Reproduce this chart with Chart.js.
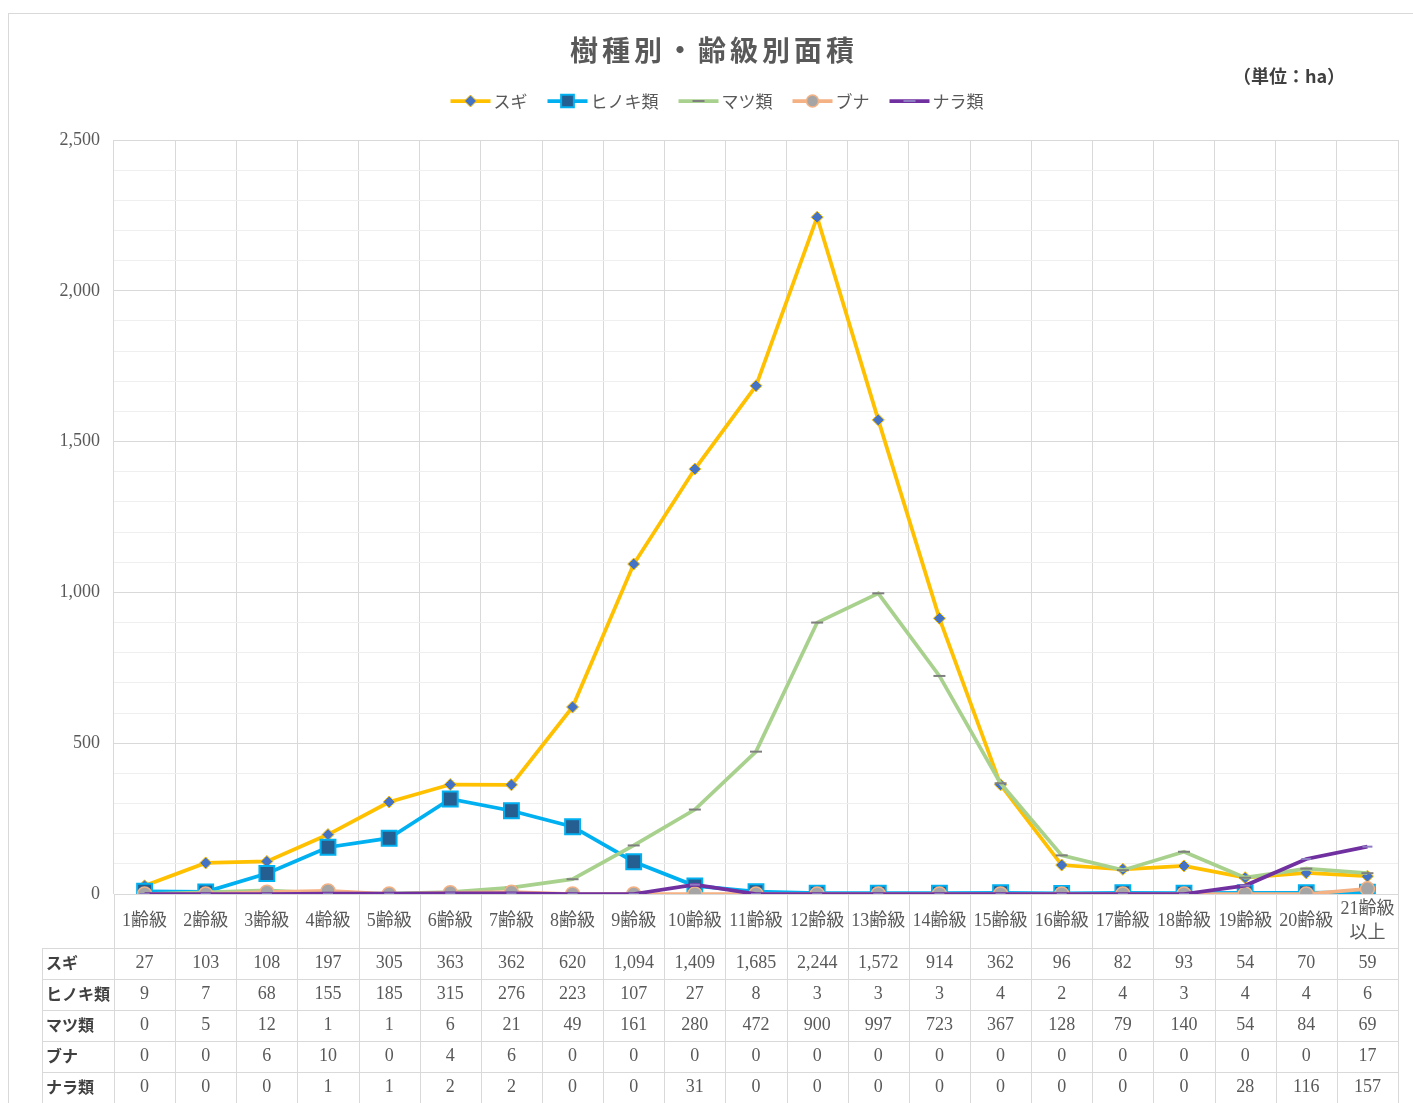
<!DOCTYPE html>
<html lang="ja">
<head>
<meta charset="utf-8">
<title>樹種別・齢級別面積</title>
<script src="https://cdn.jsdelivr.net/npm/chart.js@4.4.0/dist/chart.umd.min.js"></script>
<style>
  html, body { margin: 0; padding: 0; background: #fff; }
  canvas { display: block; }
</style>
</head>
<body>
<canvas id="chart" width="1413" height="1103"></canvas>
<script>
// 齢級 (age class) categories
const categories = ['1齢級', '2齢級', '3齢級', '4齢級', '5齢級', '6齢級', '7齢級', '8齢級', '9齢級', '10齢級',
  '11齢級', '12齢級', '13齢級', '14齢級', '15齢級', '16齢級', '17齢級', '18齢級', '19齢級', '20齢級', ['21齢級', '以上']];

const seriesNames = ['スギ', 'ヒノキ類', 'マツ類', 'ブナ', 'ナラ類'];

const sugi = [27, 103, 108, 197, 305, 363, 362, 620, 1094, 1409, 1685, 2244, 1572, 914, 362, 96, 82, 93, 54, 70, 59];
const hinoki = [9, 7, 68, 155, 185, 315, 276, 223, 107, 27, 8, 3, 3, 3, 4, 2, 4, 3, 4, 4, 6];
const matsu = [0, 5, 12, 1, 1, 6, 21, 49, 161, 280, 472, 900, 997, 723, 367, 128, 79, 140, 54, 84, 69];
const buna = [0, 0, 6, 10, 0, 4, 6, 0, 0, 0, 0, 0, 0, 0, 0, 0, 0, 0, 0, 0, 17];
const nara = [0, 0, 0, 1, 1, 2, 2, 0, 0, 31, 0, 0, 0, 0, 0, 0, 0, 0, 28, 116, 157];

const yTicks = [0, 500, 1000, 1500, 2000, 2500];

const SERIF = "'Liberation Serif', 'Noto Sans CJK JP', serif";
const GOTHIC = "'Noto Sans CJK JP', sans-serif";
const TEXT = '#595959';
const GRID = '#d9d9d9';
const GRID_MINOR = '#efefef';

const datasets = [
  {
    label: seriesNames[0], data: sugi, order: 4,
    borderColor: '#ffc000', borderWidth: 3.75,
    pointStyle: 'rectRot', pointRadius: 6,
    pointBackgroundColor: '#4472c4', pointBorderColor: '#ffc000', pointBorderWidth: 1
  },
  {
    label: seriesNames[1], data: hinoki, order: 3,
    borderColor: '#00b0f0', borderWidth: 3.75,
    pointStyle: 'rect', pointRadius: 10.5,
    pointBackgroundColor: '#255e91', pointBorderColor: '#00b0f0', pointBorderWidth: 2
  },
  {
    label: seriesNames[2], data: matsu, order: 2,
    borderColor: '#a9d18e', borderWidth: 3.75,
    pointStyle: 'line', pointRadius: 6,
    pointBackgroundColor: '#7f7f7f', pointBorderColor: '#7f7f7f', pointBorderWidth: 2
  },
  {
    label: seriesNames[3], data: buna, order: 1,
    borderColor: '#f4b183', borderWidth: 3.75,
    pointStyle: 'circle', pointRadius: 7,
    pointBackgroundColor: '#a5a5a5', pointBorderColor: '#f4b183', pointBorderWidth: 1.5
  },
  {
    label: seriesNames[4], data: nara, order: 0,
    borderColor: '#7030a0', borderWidth: 3.75,
    pointStyle: 'line', pointRadius: 5,
    pointBackgroundColor: '#8e7cc3', pointBorderColor: '#8e7cc3', pointBorderWidth: 2
  }
];

const tableRows = [sugi, hinoki, matsu, buna, nara];

// title, unit, legend, frame
const decorPlugin = {
  id: 'decor',
  beforeDraw(chart) {
    const ctx = chart.ctx;
    ctx.save();
    ctx.fillStyle = '#fff';
    ctx.fillRect(0, 0, chart.width, chart.height);
    ctx.strokeStyle = GRID;
    ctx.lineWidth = 1;
    ctx.strokeRect(8.5, 13.5, 1600, 1300);
    ctx.restore();
  },
  afterDraw(chart) {
    const ctx = chart.ctx;
    ctx.save();
    // title
    ctx.fillStyle = TEXT;
    ctx.textAlign = 'center';
    ctx.textBaseline = 'middle';
    ctx.font = `bold 28px ${GOTHIC}`;
    ctx.letterSpacing = '4px';
    ctx.fillText('樹種別・齢級別面積', 714, 50);
    ctx.letterSpacing = '0px';
    // unit
    ctx.fillStyle = '#404040';
    ctx.font = `bold 18px ${GOTHIC}`;
    ctx.fillText('（単位：ha）', 1289, 76);

    // legend
    ctx.font = `17px ${GOTHIC}`;
    ctx.textAlign = 'left';
    const lineLen = 40, gapText = 3, gapItem = 20;
    const widths = chart.data.datasets.map(ds => lineLen + gapText + ctx.measureText(ds.label).width);
    const total = widths.reduce((a, b) => a + b, 0) + gapItem * (widths.length - 1);
    let x = 717 - total / 2;
    const y = 101;
    chart.data.datasets.forEach((ds, i) => {
      ctx.strokeStyle = ds.borderColor;
      ctx.lineWidth = 3.75;
      ctx.beginPath();
      ctx.moveTo(x, y);
      ctx.lineTo(x + lineLen, y);
      ctx.stroke();
      ctx.fillStyle = ds.pointBackgroundColor;
      ctx.strokeStyle = ds.pointBorderColor;
      ctx.lineWidth = ds.pointBorderWidth;
      Chart.helpers.drawPoint(ctx, {
        pointStyle: ds.pointStyle,
        radius: ds.pointStyle === 'rect' ? 9 : 6,
        rotation: 0,
        borderWidth: ds.pointBorderWidth
      }, x + lineLen / 2, y);
      ctx.fillStyle = TEXT;
      ctx.fillText(ds.label, x + lineLen + gapText, y + 1);
      x += widths[i] + gapItem;
    });
    ctx.restore();
  }
};

// category labels and data table under the axis
const tablePlugin = {
  id: 'dataTable',
  afterDraw(chart) {
    const ctx = chart.ctx;
    const xs = chart.scales.x;
    const area = chart.chartArea;
    const n = categories.length;
    const step = (area.right - area.left) / n;
    const top = area.bottom + 54;
    const rowH = 31;
    const bottom = top + rowH * tableRows.length;
    const leftLabel = 42;
    ctx.save();
    ctx.strokeStyle = GRID;
    ctx.lineWidth = 1;
    ctx.beginPath();
    for (let i = 0; i <= n; i++) {
      const px = Math.round(area.left + step * i) + 0.5;
      ctx.moveTo(px, area.bottom);
      ctx.lineTo(px, bottom);
    }
    ctx.moveTo(leftLabel + 0.5, top);
    ctx.lineTo(leftLabel + 0.5, bottom);
    for (let r = 0; r <= tableRows.length; r++) {
      const py = Math.round(top + rowH * r) + 0.5;
      ctx.moveTo(leftLabel, py);
      ctx.lineTo(area.right, py);
    }
    ctx.stroke();

    // category labels
    ctx.textBaseline = 'middle';
    ctx.textAlign = 'center';
    ctx.fillStyle = TEXT;
    ctx.font = `18px ${SERIF}`;
    const midY = area.bottom + 27;
    categories.forEach((c, i) => {
      const cx = xs.getPixelForValue(i);
      const lines = Array.isArray(c) ? c : [c];
      const lh = 24;
      lines.forEach((t, k) => {
        ctx.fillText(t, cx, midY + (k - (lines.length - 1) / 2) * lh);
      });
    });

    tableRows.forEach((row, r) => {
      const cy = top + rowH * r + rowH / 2;
      ctx.fillStyle = '#404040';
      ctx.textAlign = 'left';
      ctx.font = `bold 16px ${GOTHIC}`;
      ctx.fillText(seriesNames[r], leftLabel + 4, cy - 1);
      ctx.fillStyle = TEXT;
      ctx.textAlign = 'center';
      ctx.font = `18px ${SERIF}`;
      row.forEach((v, i) => {
        ctx.fillText(v.toLocaleString('en-US'), xs.getPixelForValue(i), cy);
      });
    });
    ctx.restore();
  }
};

new Chart(document.getElementById('chart'), {
  type: 'line',
  data: { labels: categories, datasets },
  plugins: [decorPlugin, tablePlugin],
  options: {
    responsive: false,
    animation: false,
    devicePixelRatio: 1,
    layout: { padding: { top: 140, right: 15, bottom: 155, left: 0 } },
    elements: { line: { tension: 0 } },
    plugins: {
      legend: { display: false },
      title: { display: false },
      tooltip: { enabled: false }
    },
    scales: {
      x: {
        offset: true,
        grid: { offset: true, color: GRID, drawTicks: false },
        border: { display: false },
        ticks: { display: false },
        afterFit(scale) { scale.height = 54; }
      },
      y: {
        min: 0, max: 2500,
        grid: {
          drawTicks: false,
          color: c => (c.tick && yTicks.includes(c.tick.value)) ? GRID : GRID_MINOR
        },
        border: { display: false },
        ticks: {
          stepSize: 100, autoSkip: false, padding: 14,
          color: TEXT,
          font: { family: SERIF, size: 18 },
          callback: v => yTicks.includes(v) ? v.toLocaleString('en-US') : ''
        },
        afterFit(scale) { scale.width = 114; }
      }
    }
  }
});
</script>
</body>
</html>
